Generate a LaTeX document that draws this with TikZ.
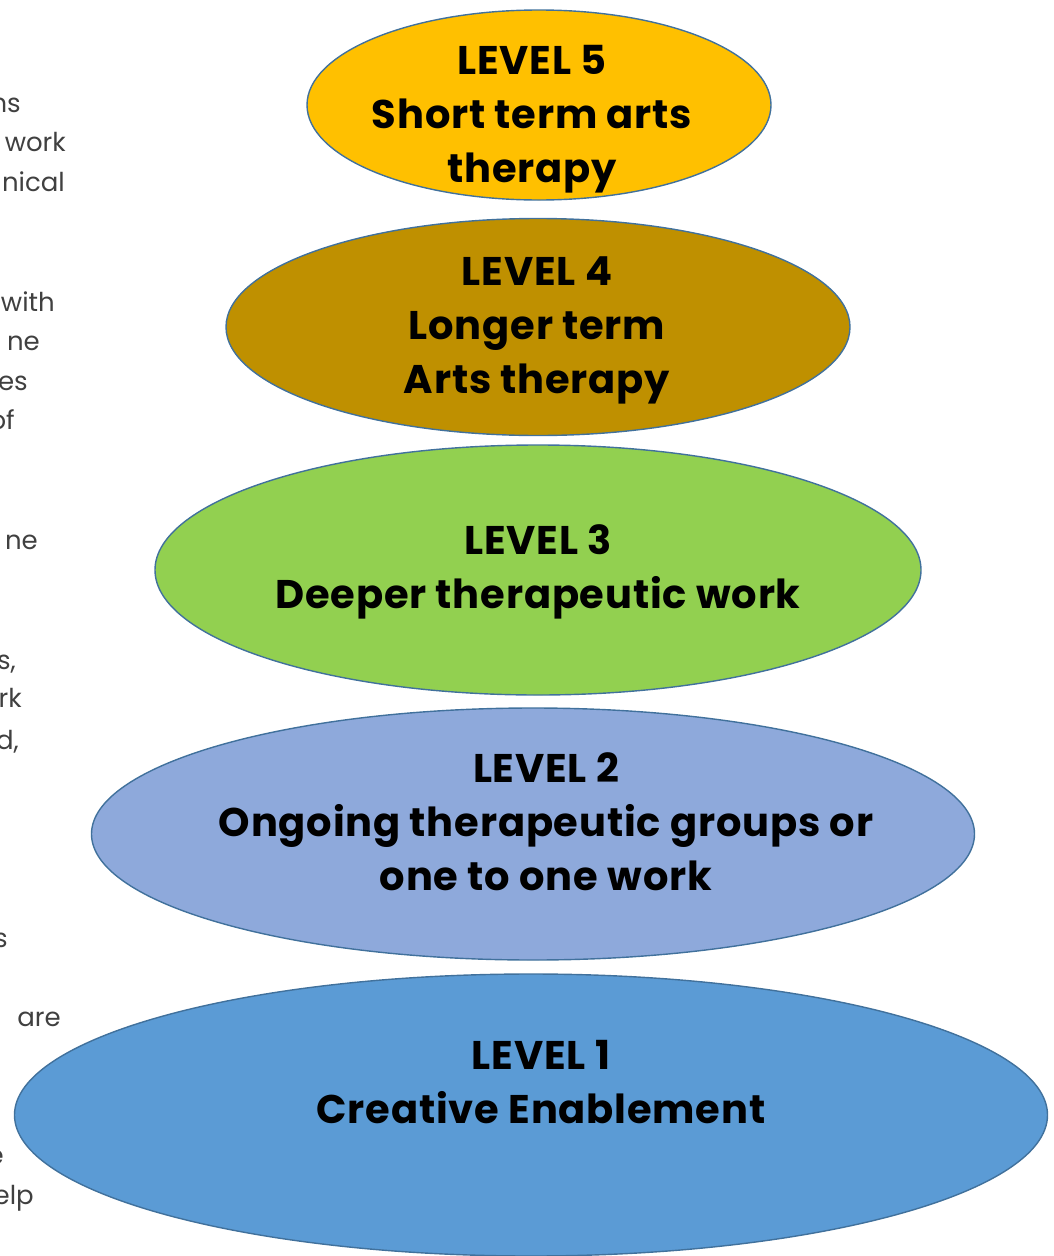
\documentclass[tikz,border=0pt]{standalone}
\usepackage{fontspec}
\setmainfont{Poppins}
\newfontfamily\levelfont[LetterSpace=2]{Poppins}
\usetikzlibrary{shapes.geometric}
\definecolor{edgeblue}{HTML}{41719C}
\definecolor{lvA}{HTML}{5B9BD5}
\definecolor{lvB}{HTML}{8EA9DB}
\definecolor{lvC}{HTML}{92D050}
\definecolor{lvD}{HTML}{BF9000}
\definecolor{lvE}{HTML}{FFC000}
\definecolor{sidetext}{HTML}{404040}
\begin{document}
\begin{tikzpicture}[x=1pt,y=-1pt,
  levelbox/.style={ellipse,draw=edgeblue,line width=1.4pt,inner sep=0pt},
  leveltext/.style={font=\levelfont\fontsize{40}{54}\selectfont\bfseries,align=center,text=black},
  sidefrag/.style={anchor=base east,inner sep=0pt,font=\fontsize{26}{30}\selectfont,text=sidetext}]
\useasboundingbox (0,0) rectangle (1054,1256);
% text running off the left margin
\node[sidefrag] (f1) at (21,112) {ns};
\node[sidefrag] (f2) at (66,151) {work};
\node[sidefrag] (f3) at (65,191) {nical};
\node[sidefrag] (f4) at (55,311) {with};
\node[sidefrag] (f5) at (40,350) {ne};
\node[sidefrag] (f6) at (28,390) {es};
\node[sidefrag] (f7) at (15,429) {of};
\node[sidefrag] (f8) at (38,549) {ne};
\node[sidefrag] (f9) at (16,669) {s,};
\node[sidefrag] (f10) at (22,707) {rk};
\node[sidefrag] (f11) at (19,749) {d,};
\node[sidefrag] (f12) at (8,947) {s};
\node[sidefrag] (f13) at (61,1026) {are};
\node[sidefrag] (f14) at (4,1164) {e};
\node[sidefrag] (f15) at (34,1204) {elp};
% the five levels
\node[levelbox,fill=lvE,minimum width=464pt,minimum height=190pt] (l5) at (539,105) {};
\node[levelbox,fill=lvD,minimum width=624pt,minimum height=217pt] (l4) at (538,327) {};
\node[levelbox,fill=lvC,minimum width=766pt,minimum height=250pt] (l3) at (538,570) {};
\node[levelbox,fill=lvB,minimum width=883pt,minimum height=252pt] (l2) at (533,834) {};
\node[levelbox,fill=lvA,minimum width=1033pt,minimum height=282pt] (l1) at (531,1115) {};
\node[leveltext] (t5) at (532,119) {LEVEL 5\\Short term arts\\therapy};
\node[leveltext] (t4) at (537,330) {LEVEL 4\\Longer term\\Arts therapy};
\node[leveltext] (t3) at (538,572) {LEVEL 3\\Deeper therapeutic work};
\node[leveltext] (t2) at (546,822) {LEVEL 2\\Ongoing therapeutic groups or\\one to one work};
\node[leveltext] (t1) at (541,1082) {LEVEL 1\\Creative Enablement};
\end{tikzpicture}
\end{document}
